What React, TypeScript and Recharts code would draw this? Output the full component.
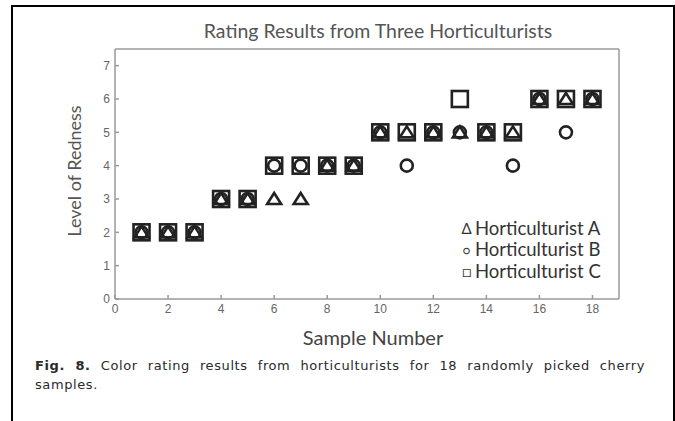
import React from "react";
import { ScatterChart, Scatter, XAxis, YAxis } from "recharts";

// ratings, sample 1..18
const samples = [1, 2, 3, 4, 5, 6, 7, 8, 9, 10, 11, 12, 13, 14, 15, 16, 17, 18];
const ratingA = [2, 2, 2, 3, 3, 3, 3, 4, 4, 5, 5, 5, 5, 5, 5, 6, 6, 6];
const ratingB = [2, 2, 2, 3, 3, 4, 4, 4, 4, 5, 4, 5, 5, 5, 4, 6, 5, 6];
const ratingC = [2, 2, 2, 3, 3, 4, 4, 4, 4, 5, 5, 5, 6, 5, 5, 6, 6, 6];

const xTicks = [0, 2, 4, 6, 8, 10, 12, 14, 16, 18];
const yTicks = [0, 1, 2, 3, 4, 5, 6, 7];

const toPoints = (vals: number[]) => samples.map((s, i) => ({ x: s, y: vals[i] }));
const dataA = toPoints(ratingA);
const dataB = toPoints(ratingB);
const dataC = toPoints(ratingC);

const INK = "#222";
const AXIS = "#9a9a9a";
const TICK = "#666";
const SW = 2.6;

const Square = (p: any) => (
  <rect x={p.cx - 8} y={p.cy - 8} width={16} height={16} fill="none" stroke={INK} strokeWidth={SW} />
);
const Circle = (p: any) => <circle cx={p.cx} cy={p.cy} r={6} fill="none" stroke={INK} strokeWidth={SW} />;
const Triangle = (p: any) => (
  <polygon
    points={`${p.cx - 7},${p.cy + 5} ${p.cx + 7},${p.cy + 5} ${p.cx},${p.cy - 6}`}
    fill="none"
    stroke={INK}
    strokeWidth={SW}
  />
);

const legendItems = [
  { sym: "Δ", name: "Horticulturist A" },
  { sym: "○", name: "Horticulturist B" },
  { sym: "□", name: "Horticulturist C" },
];

const font = "Lato, sans-serif";

export default function App() {
  const tickStyle = { fill: TICK, fontSize: 12, fontFamily: "Liberation Sans, Arial, sans-serif" };
  return (
    <div
      style={{
        position: "absolute",
        left: 0,
        top: 0,
        width: 675,
        height: 421,
        background: "#fff",
        overflow: "hidden",
      }}
    >
      <div
        style={{
          position: "absolute",
          left: 11,
          top: 5,
          width: 660,
          height: 440,
          borderLeft: "2px solid #000",
          borderTop: "2px solid #000",
          borderRight: "2px solid #000",
        }}
      />
      <div
        style={{
          position: "absolute",
          left: 378,
          top: 19,
          transform: "translateX(-50%)",
          whiteSpace: "nowrap",
          fontFamily: font,
          fontSize: 19.5,
          color: "#555",
        }}
      >
        Rating Results from Three Horticulturists
      </div>
      <div
        style={{
          position: "absolute",
          left: 74,
          top: 171,
          transform: "translate(-50%, -50%) rotate(-90deg)",
          whiteSpace: "nowrap",
          fontFamily: font,
          fontSize: 18,
          color: "#555",
        }}
      >
        Level of Redness
      </div>
      <div
        style={{
          position: "absolute",
          left: 373,
          top: 325,
          transform: "translateX(-50%)",
          whiteSpace: "nowrap",
          fontFamily: font,
          fontSize: 20,
          color: "#444",
        }}
      >
        Sample Number
      </div>
      <div
        style={{
          position: "absolute",
          left: 458,
          top: 218,
          fontFamily: font,
          fontSize: 18.5,
          color: "#333",
          lineHeight: "21px",
        }}
      >
        {legendItems.map((it) => (
          <div key={it.name} style={{ whiteSpace: "nowrap" }}>
            <span
              style={{
                display: "inline-block",
                width: 17,
                fontSize: it.sym === "○" ? 12 : 15,
                textAlign: "center",
                verticalAlign: "1px",
              }}
            >
              {it.sym}
            </span>
            {it.name}
          </div>
        ))}
      </div>
      <div
        style={{
          position: "absolute",
          left: 35,
          top: 356,
          width: 610,
          fontFamily: "DejaVu Sans, sans-serif",
          fontSize: 13,
          letterSpacing: 0.6,
          lineHeight: "19px",
          color: "#2a2a2a",
        }}
      >
        <div style={{ textAlignLast: "justify", textAlign: "justify", whiteSpace: "nowrap" }}>
          <b>Fig. 8.</b> Color rating results from horticulturists for 18 randomly picked cherry
        </div>
        <div>samples.</div>
      </div>

      <ScatterChart
        width={675}
        height={421}
        style={{ position: "absolute", left: 0, top: 0 }}
        margin={{ top: 49, right: 56, bottom: 92, left: 75 }}
      >
        <XAxis
          xAxisId="b"
          type="number"
          dataKey="x"
          domain={[0, 19]}
          ticks={xTicks}
          height={30}
          tickSize={-4}
          tickMargin={9}
          stroke={AXIS}
          strokeWidth={1.5}
          tick={tickStyle}
          allowDataOverflow
        />
        <XAxis
          xAxisId="t"
          orientation="top"
          mirror
          type="number"
          dataKey="x"
          domain={[0, 19]}
          ticks={xTicks}
          tickSize={4}
          stroke={AXIS}
          strokeWidth={1.5}
          tick={false}
          allowDataOverflow
        />
        <YAxis
          yAxisId="l"
          type="number"
          dataKey="y"
          domain={[0, 7.5]}
          ticks={yTicks}
          width={40}
          tickSize={-4}
          tickMargin={9}
          stroke={AXIS}
          strokeWidth={1.5}
          tick={tickStyle}
          allowDataOverflow
        />
        <YAxis
          yAxisId="r"
          orientation="right"
          mirror
          type="number"
          dataKey="y"
          domain={[0, 7.5]}
          ticks={yTicks}
          tickSize={4}
          stroke={AXIS}
          strokeWidth={1.5}
          tick={false}
          allowDataOverflow
        />
        <Scatter
          name="Horticulturist C"
          data={dataC}
          xAxisId="b"
          yAxisId="l"
          shape={Square}
          isAnimationActive={false}
        />
        <Scatter
          name="Horticulturist B"
          data={dataB}
          xAxisId="b"
          yAxisId="l"
          shape={Circle}
          isAnimationActive={false}
        />
        <Scatter
          name="Horticulturist A"
          data={dataA}
          xAxisId="b"
          yAxisId="l"
          shape={Triangle}
          isAnimationActive={false}
        />
      </ScatterChart>
    </div>
  );
}
